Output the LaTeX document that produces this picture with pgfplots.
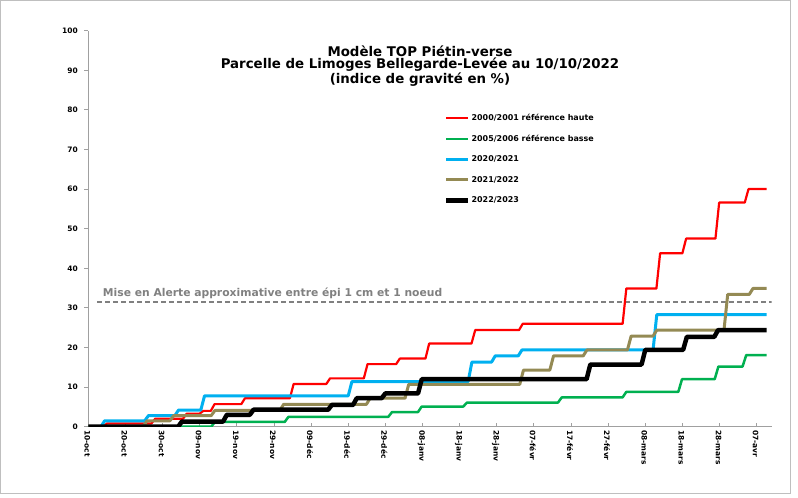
\documentclass[border=0pt]{standalone}
\usepackage{fontspec}
\setmainfont{DejaVu Sans}
\usepackage{pgfplots}
\pgfplotsset{compat=1.18}
\definecolor{cred}{RGB}{255,0,0}
\definecolor{cgreen}{RGB}{0,176,80}
\definecolor{cblue}{RGB}{0,176,240}
\definecolor{colive}{RGB}{148,138,84}
\definecolor{caxis}{RGB}{160,160,160}
\definecolor{cdash}{RGB}{128,128,128}
\begin{document}
\begin{tikzpicture}
\path (0bp,0bp) rectangle (798bp,498bp);
\draw[black!25, line width=0.8bp] (0.4bp,5bp) rectangle (790.5bp,497.6bp);
\node[align=center, font=\fontsize{13.4}{12}\selectfont\bfseries] at (420bp,432bp)
  {Modèle TOP Piétin-verse\\Parcelle de Limoges Bellegarde-Levée au 10/10/2022\\(indice de gravité en \%)};
\begin{axis}[
  at={(88.3bp,71.3bp)}, anchor=south west,
  scale only axis, width=683.4bp, height=396bp,
  xmin=0, xmax=184.05, ymin=0, ymax=100,
  axis lines=left,
  axis line style={caxis, line width=0.8bp, -},
  xtick={0,10,...,180},
  xticklabels={10-oct,20-oct,30-oct,09-nov,19-nov,29-nov,09-déc,19-déc,29-déc,08-janv,18-janv,28-janv,07-févr,17-févr,27-févr,08-mars,18-mars,28-mars,07-avr},
  ytick={0,10,...,100},
  tick style={caxis, line width=0.8bp},
  major tick length=4bp,
  xtick align=inside, ytick align=outside,
  /pgf/number format/assume math mode=true,
  tick label style={font=\fontsize{7.5}{9}\selectfont\bfseries},
  x tick label style={rotate=-90, anchor=west, yshift=-1bp},
  y tick label style={xshift=-3bp},
  legend style={at={(0.516,0.797)}, anchor=north west, draw=none, fill=none,
    font=\fontsize{8}{9}\selectfont\bfseries, row sep=10.5bp,
    nodes={text height=6.5bp, text depth=1.5bp, inner sep=1bp}},
  legend cell align=left,
  legend image code/.code={\draw[#1] (0bp,0bp) -- (22bp,0bp);},
  every axis plot/.append style={line join=round, no markers},
]
\addplot[cdash, line width=1.4bp, dash pattern=on 5bp off 3bp, forget plot] coordinates {(2.4,31.5) (184.05,31.5)};
\node[anchor=base west, inner sep=0pt, text=cdash, font=\fontsize{10.8}{12}\selectfont\bfseries] at (axis cs:3.9,32.8) {Mise en Alerte approximative entre épi 1 cm et 1 noeud};
\addplot[cred, line width=2.2bp] coordinates {
(0,0) (4,0) (5,0.8) (17,0.8) (18,2.0) (25.5,2.0) (26.5,3.3) (30,3.3) (31,4.0) (33,4.0) (34,5.7) (41.2,5.7) (42.2,7.2) (54.3,7.2) (55.3,10.8) (64.1,10.8) (65.1,12.2) (74.2,12.2) (75.2,15.8) (82.9,15.8) (83.9,17.2) (90.8,17.2) (91.8,21.0) (103.2,21.0) (104.2,24.4) (116,24.4) (117,26.0) (143.9,26.0) (144.9,34.9) (153,34.9) (154,43.8) (160,43.8) (161,47.5) (168.9,47.5) (169.9,56.6) (176.8,56.6) (177.8,60.0) (182.7,60.0)};
\addplot[cgreen, line width=2.5bp] coordinates {
(0,0) (33.1,0) (34.1,1.2) (52.9,1.2) (53.9,2.5) (80.8,2.5) (81.8,3.7) (88.8,3.7) (89.8,5.1) (101,5.1) (102,6.1) (126.5,6.1) (127.5,7.4) (143.9,7.4) (144.9,8.8) (158.9,8.8) (159.9,12.0) (168.7,12.0) (169.7,15.2) (176.2,15.2) (177.2,18.1) (182.7,18.1)};
\addplot[cblue, line width=3bp] coordinates {
(0,0) (3.4,0) (4.4,1.5) (15.2,1.5) (16.2,2.8) (23.3,2.8) (24.3,4.2) (30.3,4.2) (31.3,7.8) (70,7.8) (71,11.4) (102.3,11.4) (103.3,16.3) (108.6,16.3) (109.6,17.9) (115.8,17.9) (116.8,19.4) (152.1,19.4) (153.1,28.3) (182.7,28.3)};
\addplot[colive, line width=3bp] coordinates {
(0,0) (14.8,0) (15.8,1.5) (22,1.5) (23,2.8) (33.1,2.8) (34.1,4.1) (51.6,4.1) (52.6,5.65) (74.9,5.65) (75.9,7.2) (85.3,7.2) (86.3,10.7) (116.2,10.7) (117.2,14.3) (124.3,14.3) (125.3,17.9) (133.3,17.9) (134.3,19.4) (145.2,19.4) (146.2,22.9) (152.1,22.9) (153.1,24.4) (171.2,24.4) (172.2,33.4) (178,33.4) (179,34.9) (182.7,34.9)};
\addplot[black, line width=4.5bp] coordinates {
(0,0) (24.2,0) (25.2,1.3) (36.3,1.3) (37.3,3.0) (43.5,3.0) (44.5,4.3) (64.6,4.3) (65.6,5.5) (71.3,5.5) (72.3,7.2) (79,7.2) (80,8.4) (88.8,8.4) (89.8,12.0) (134.2,12.0) (135.2,15.7) (149,15.7) (150,19.4) (160.2,19.4) (161.2,22.7) (168.6,22.7) (169.6,24.4) (182.7,24.4)};
\legend{2000/2001 référence haute, 2005/2006 référence basse, 2020/2021, 2021/2022, 2022/2023}
\end{axis}
\end{tikzpicture}
\end{document}
